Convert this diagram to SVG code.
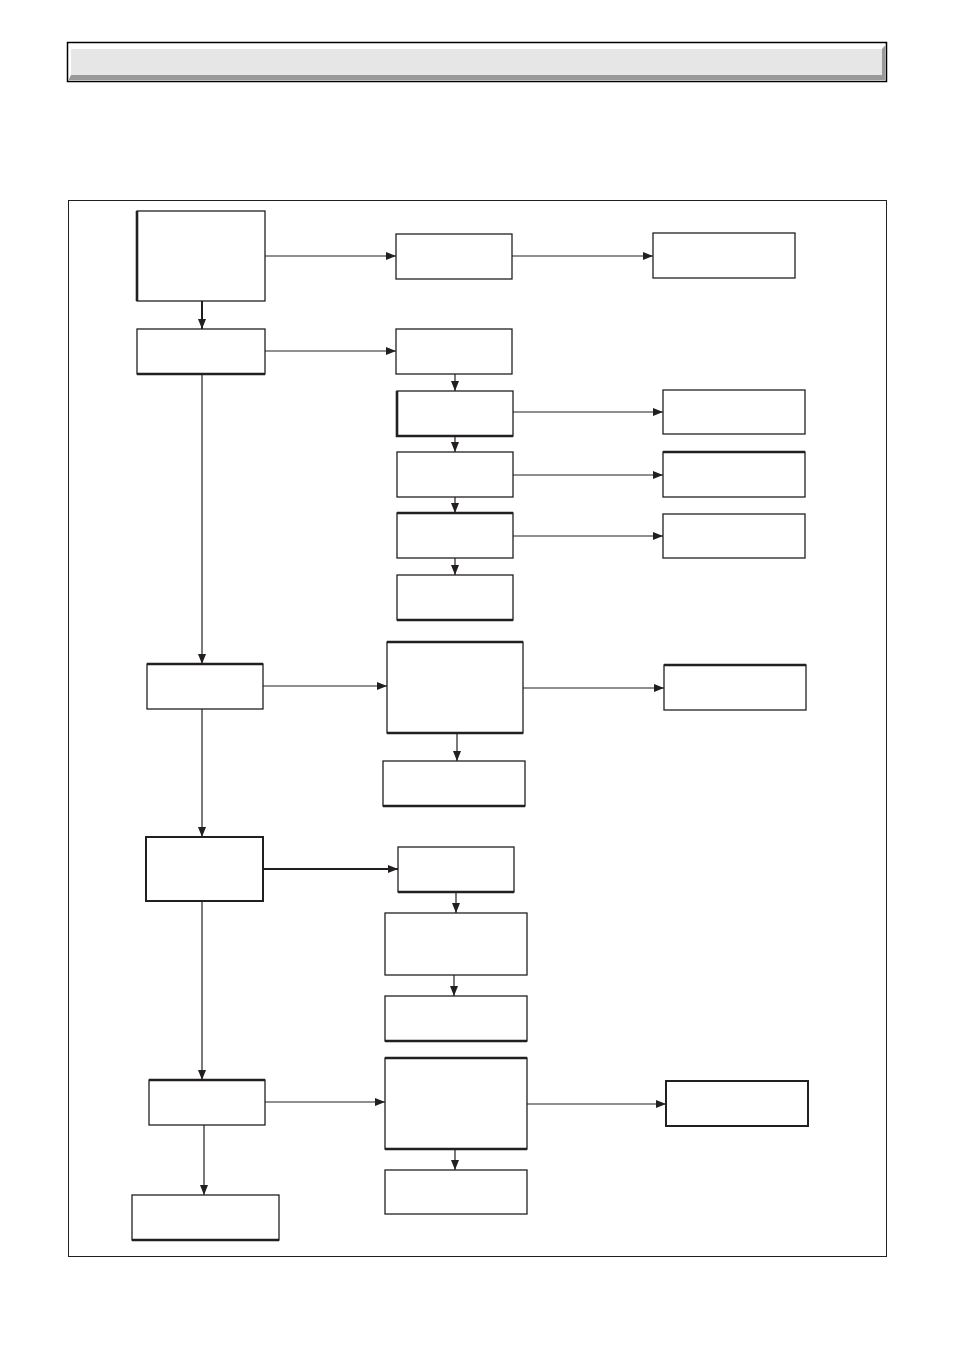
<svg xmlns="http://www.w3.org/2000/svg" width="954" height="1351" viewBox="0 0 954 1351">
<style>
.box{fill:#fff;stroke:#231f20;stroke-width:1.3}
.thk{fill:none;stroke:#231f20;stroke-width:2.6}
.ln{fill:none;stroke:#231f20;stroke-width:1.2}
.lnb{fill:none;stroke:#231f20;stroke-width:2}
</style>
<defs>
<marker id="ah" markerUnits="userSpaceOnUse" markerWidth="12" markerHeight="8" refX="10" refY="4" orient="auto">
<path d="M0,0 L10,4 L0,8 Z" fill="#231f20"/>
</marker>
</defs>
<rect width="954" height="1351" fill="#fff"/>
<g id="header">
<rect x="67.5" y="42.5" width="819" height="39" fill="#fff" stroke="#000" stroke-width="1.5"/>
<rect x="71" y="49" width="811" height="26" fill="#e6e6e7"/>
<polygon points="68.5,80 71,75 882,75 882,49 885.5,45 885.5,80" fill="#999"/>
</g>
<rect id="frame" x="68.5" y="200.5" width="818" height="1056" fill="none" stroke="#231f20" stroke-width="1"/>
<g id="connectors">
<line class="ln" x1="265" y1="256" x2="396" y2="256" marker-end="url(#ah)"/>
<line class="ln" x1="512" y1="256" x2="653" y2="256" marker-end="url(#ah)"/>
<line class="lnb" x1="202" y1="301" x2="202" y2="329" marker-end="url(#ah)"/>
<line class="ln" x1="265" y1="351" x2="396" y2="351" marker-end="url(#ah)"/>
<line class="ln" x1="455" y1="374" x2="455" y2="391" marker-end="url(#ah)"/>
<line class="ln" x1="513" y1="412" x2="663" y2="412" marker-end="url(#ah)"/>
<line class="ln" x1="455" y1="436" x2="455" y2="452" marker-end="url(#ah)"/>
<line class="ln" x1="513" y1="475" x2="663" y2="475" marker-end="url(#ah)"/>
<line class="ln" x1="455" y1="497" x2="455" y2="513" marker-end="url(#ah)"/>
<line class="ln" x1="513" y1="536" x2="663" y2="536" marker-end="url(#ah)"/>
<line class="ln" x1="455" y1="558" x2="455" y2="575" marker-end="url(#ah)"/>
<line class="ln" x1="202" y1="374" x2="202" y2="664" marker-end="url(#ah)"/>
<line class="ln" x1="263" y1="686" x2="387" y2="686" marker-end="url(#ah)"/>
<line class="ln" x1="523" y1="688" x2="664" y2="688" marker-end="url(#ah)"/>
<line class="ln" x1="457" y1="733" x2="457" y2="761" marker-end="url(#ah)"/>
<line class="ln" x1="202" y1="709" x2="202" y2="837" marker-end="url(#ah)"/>
<line class="lnb" x1="263" y1="869" x2="398" y2="869" marker-end="url(#ah)"/>
<line class="ln" x1="456" y1="892" x2="456" y2="913" marker-end="url(#ah)"/>
<line class="ln" x1="454" y1="975" x2="454" y2="996" marker-end="url(#ah)"/>
<line class="ln" x1="202" y1="901" x2="202" y2="1080" marker-end="url(#ah)"/>
<line class="ln" x1="265" y1="1102" x2="385" y2="1102" marker-end="url(#ah)"/>
<line class="ln" x1="527" y1="1104" x2="666" y2="1104" marker-end="url(#ah)"/>
<line class="ln" x1="455" y1="1149" x2="455" y2="1170" marker-end="url(#ah)"/>
<line class="ln" x1="204" y1="1125" x2="204" y2="1195" marker-end="url(#ah)"/>
</g>
<g id="nA"><rect class="box" x="137" y="211" width="128" height="90"/><line class="thk" x1="137" y1="211" x2="137" y2="301"/></g>
<g id="nB"><rect class="box" x="396" y="234" width="116" height="45"/></g>
<g id="nC"><rect class="box" x="653" y="233" width="142" height="45"/></g>
<g id="nD"><rect class="box" x="137" y="329" width="128" height="45"/><line class="thk" x1="137" y1="374" x2="265" y2="374"/></g>
<g id="nE"><rect class="box" x="396" y="329" width="116" height="45"/></g>
<g id="nF"><rect class="box" x="397" y="391" width="116" height="45"/><path class="thk" d="M397,391 V436 H513"/></g>
<g id="nG"><rect class="box" x="663" y="390" width="142" height="44"/></g>
<g id="nH"><rect class="box" x="397" y="452" width="116" height="45"/></g>
<g id="nI"><rect class="box" x="663" y="452" width="142" height="45"/><line class="thk" x1="663" y1="452" x2="805" y2="452"/></g>
<g id="nJ"><rect class="box" x="397" y="513" width="116" height="45"/><line class="thk" x1="397" y1="513" x2="513" y2="513"/></g>
<g id="nK"><rect class="box" x="663" y="514" width="142" height="44"/></g>
<g id="nL"><rect class="box" x="397" y="575" width="116" height="45"/><line class="thk" x1="397" y1="620" x2="513" y2="620"/></g>
<g id="nM"><rect class="box" x="147" y="664" width="116" height="45"/><line class="thk" x1="147" y1="664" x2="263" y2="664"/></g>
<g id="nN"><rect class="box" x="387" y="642" width="136" height="91"/><line class="thk" x1="387" y1="642" x2="523" y2="642"/><line class="thk" x1="387" y1="733" x2="523" y2="733"/></g>
<g id="nO"><rect class="box" x="664" y="665" width="142" height="45"/><line class="thk" x1="664" y1="665" x2="806" y2="665"/></g>
<g id="nP"><rect class="box" x="383" y="761" width="142" height="45"/><line class="thk" x1="383" y1="806" x2="525" y2="806"/></g>
<g id="nQ"><rect class="box" x="146" y="837" width="117" height="64" style="stroke-width:2"/></g>
<g id="nR"><rect class="box" x="398" y="847" width="116" height="45"/><line class="thk" x1="398" y1="892" x2="514" y2="892"/></g>
<g id="nS"><rect class="box" x="385" y="913" width="142" height="62"/></g>
<g id="nT"><rect class="box" x="385" y="996" width="142" height="45"/><line class="thk" x1="385" y1="1041" x2="527" y2="1041"/></g>
<g id="nU"><rect class="box" x="149" y="1080" width="116" height="45"/><line class="thk" x1="149" y1="1080" x2="265" y2="1080"/></g>
<g id="nV"><rect class="box" x="385" y="1058" width="142" height="91"/><line class="thk" x1="385" y1="1058" x2="527" y2="1058"/><line class="thk" x1="385" y1="1149" x2="527" y2="1149"/></g>
<g id="nW"><rect class="box" x="666" y="1081" width="142" height="45" style="stroke-width:2"/></g>
<g id="nX"><rect class="box" x="385" y="1170" width="142" height="44"/></g>
<g id="nY"><rect class="box" x="132" y="1195" width="147" height="45"/><line class="thk" x1="132" y1="1240" x2="279" y2="1240"/></g>
</svg>
